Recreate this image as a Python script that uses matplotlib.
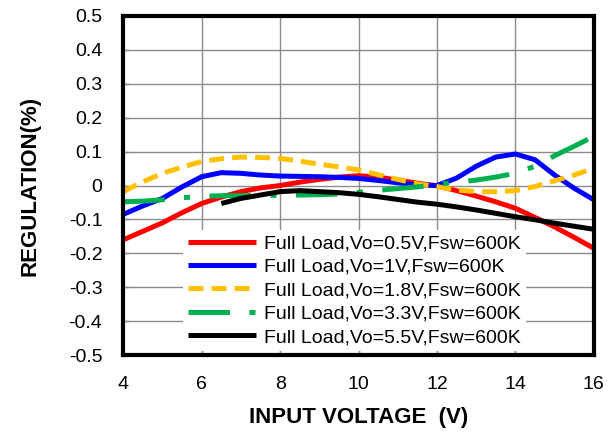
import matplotlib
matplotlib.use("Agg")
import matplotlib.pyplot as plt

plt.rcParams["font.family"] = ["Liberation Sans", "DejaVu Sans"]

# ---- datos (regulacion en %) ----
vin = [4, 4.5, 5, 5.5, 6, 6.5, 7, 7.5, 8, 8.5, 9, 9.5, 10,
       10.5, 11, 11.5, 12, 12.5, 13, 13.5, 14, 14.5, 15, 15.5, 16]

reg_05 = [-0.160, -0.135, -0.110, -0.080, -0.053, -0.034, -0.018, -0.007, 0.000,
          0.010, 0.018, 0.025, 0.029, 0.025, 0.016, 0.007, -0.001, -0.015,
          -0.031, -0.048, -0.067, -0.094, -0.122, -0.153, -0.185]
reg_1 = [-0.085, -0.060, -0.038, -0.004, 0.026, 0.038, 0.036, 0.031, 0.028,
         0.027, 0.026, 0.024, 0.021, 0.015, 0.008, 0.002, 0.000, 0.022,
         0.057, 0.084, 0.093, 0.076, 0.031, -0.008, -0.042]
reg_18 = [-0.018, 0.011, 0.036, 0.054, 0.071, 0.079, 0.084, 0.083, 0.080,
          0.072, 0.063, 0.055, 0.046, 0.032, 0.018, 0.005, -0.003, -0.013,
          -0.018, -0.018, -0.015, -0.003, 0.014, 0.031, 0.051]
reg_33 = [-0.048, -0.046, -0.042, -0.036, -0.032, -0.030, -0.030, -0.029, -0.029,
          -0.028, -0.027, -0.025, -0.020, -0.014, -0.009, -0.004, 0.003, 0.010,
          0.016, 0.025, 0.036, 0.057, 0.088, 0.116, 0.145]

vin_55 = [6.5, 7, 7.5, 8, 8.5, 9, 9.5, 10, 10.5, 11, 11.5, 12,
          12.5, 13, 13.5, 14, 14.5, 15, 15.5, 16]
reg_55 = [-0.053, -0.038, -0.028, -0.018, -0.015, -0.018, -0.021, -0.026, -0.033,
          -0.041, -0.049, -0.055, -0.063, -0.072, -0.082, -0.092, -0.101, -0.111,
          -0.120, -0.129]

labels = ["Full Load,Vo=0.5V,Fsw=600K", "Full Load,Vo=1V,Fsw=600K",
          "Full Load,Vo=1.8V,Fsw=600K", "Full Load,Vo=3.3V,Fsw=600K",
          "Full Load,Vo=5.5V,Fsw=600K"]

fig = plt.figure(figsize=(6.16, 4.32), dpi=100)
ax = fig.add_axes([0.2, 0.178, 0.764, 0.785])

lw = 3.6
ax.plot(vin, reg_05, color="#FF0000", lw=lw, label=labels[0], solid_capstyle="butt")
ax.plot(vin, reg_1, color="#0000FF", lw=lw, label=labels[1], solid_capstyle="butt")
ax.plot(vin, reg_18, color="#FFC000", lw=lw, label=labels[2],
        linestyle=(0, (3.0, 1.6)), dash_capstyle="butt")
ax.plot(vin, reg_33, color="#00B050", lw=lw, label=labels[3],
        linestyle=(0, (8.3, 3.9, 1.2, 3.9)), dash_capstyle="butt")
ax.plot(vin_55, reg_55, color="black", lw=lw, label=labels[4], solid_capstyle="butt")

ax.set_xlim(4, 16)
ax.set_ylim(-0.5, 0.5)
ax.set_xticks(range(4, 17, 2))
ax.set_yticks([i / 10 for i in range(-5, 6)])
ax.set_yticklabels(["0" if i == 0 else f"{i / 10:g}" for i in range(-5, 6)])
ax.grid(True, color="#8c8c8c", lw=1.0)
ax.set_axisbelow(True)
for sp in ax.spines.values():
    sp.set_linewidth(3.0)
ax.tick_params(direction="in", length=4, width=1, color="#8c8c8c",
               labelsize=14, pad=15)

ax.set_xlabel("INPUT VOLTAGE  (V)", fontsize=16, fontweight="bold", labelpad=10)
ax.set_ylabel("REGULATION(%)", fontsize=16, fontweight="bold", labelpad=20)

# leyenda con fondo blanco que tapa la grilla
leg = ax.legend(loc="lower left", bbox_to_anchor=(0.128, 0.012), borderaxespad=0,
                fontsize=14, handlelength=3.5, handletextpad=0.4,
                labelspacing=0.3, borderpad=0.25, fancybox=False,
                framealpha=1, edgecolor="none", facecolor="white")

fig.savefig("out.png", dpi=100)
